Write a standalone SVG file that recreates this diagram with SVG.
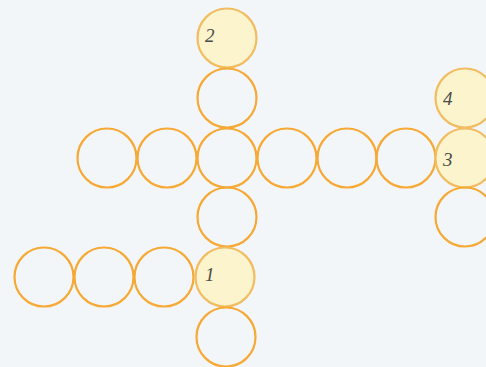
<svg xmlns="http://www.w3.org/2000/svg" width="486" height="367" viewBox="0 0 486 367">
<style>
.c{fill:none;stroke:#f6a935;stroke-width:2.2}
.h{fill:#fbf4cc;stroke:#f2bd62;stroke-width:2.2}
.t{font-family:"Liberation Serif",serif;font-style:italic;font-size:19px;fill:#4a4a4a}
</style>
<rect width="486" height="367" fill="#f3f6f9"/>
<g id="connectors"></g>
<g id="n2"><circle class="h" cx="227" cy="38" r="29.5"/><text class="t" x="205" y="42">2</text></g>
<g id="c1"><circle class="c" cx="227" cy="98" r="29.5"/></g>
<g id="r1"><circle class="c" cx="107" cy="158" r="29.5"/></g>
<g id="r2"><circle class="c" cx="167" cy="158" r="29.5"/></g>
<g id="r3"><circle class="c" cx="227" cy="158" r="29.5"/></g>
<g id="r4"><circle class="c" cx="287" cy="158" r="29.5"/></g>
<g id="r5"><circle class="c" cx="347" cy="158" r="29.5"/></g>
<g id="r6"><circle class="c" cx="406" cy="158" r="29.5"/></g>
<g id="n4"><circle class="h" cx="465" cy="98" r="29.5"/><text class="t" x="443" y="105">4</text></g>
<g id="n3"><circle class="h" cx="465" cy="158" r="29.5"/><text class="t" x="443" y="166">3</text></g>
<g id="c5"><circle class="c" cx="465" cy="217" r="29.5"/></g>
<g id="c2"><circle class="c" cx="227" cy="217" r="29.5"/></g>
<g id="b1"><circle class="c" cx="44" cy="277" r="29.5"/></g>
<g id="b2"><circle class="c" cx="104" cy="277" r="29.5"/></g>
<g id="b3"><circle class="c" cx="164" cy="277" r="29.5"/></g>
<g id="n1"><circle class="h" cx="225" cy="277" r="29.5"/><text class="t" x="205" y="281">1</text></g>
<g id="c3"><circle class="c" cx="226" cy="337" r="29.5"/></g>
</svg>
